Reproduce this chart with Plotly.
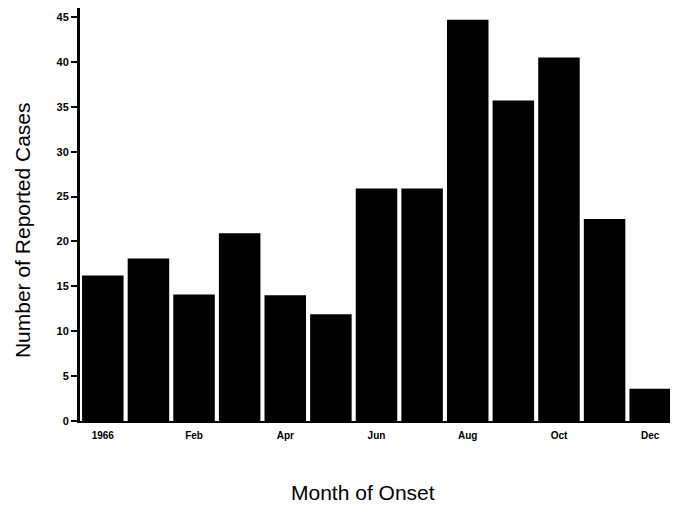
import plotly.graph_objects as go

bar_index = list(range(13))
cases = [16.2, 18.1, 14.1, 20.9, 14.0, 11.9, 25.9, 25.9, 44.7, 35.7, 40.5, 22.5, 3.6]
tick_positions = [0, 2, 4, 6, 8, 10, 12]
tick_labels = ["1966", "Feb", "Apr", "Jun", "Aug", "Oct", "Dec"]
y_ticks = [0, 5, 10, 15, 20, 25, 30, 35, 40, 45]

fig = go.Figure()
fig.add_trace(go.Bar(
    x=bar_index, y=cases,
    marker=dict(color="black", line=dict(width=0)),
    width=0.91,
))

fig.update_layout(
    width=670, height=499,
    margin=dict(l=72, r=5, t=0, b=86),
    paper_bgcolor="white", plot_bgcolor="white",
    showlegend=False,
    font=dict(family="Liberation Sans, Arial, sans-serif", color="black"),
    xaxis=dict(
        range=[-0.5, 12.5], automargin=False,
        tickmode="array", tickvals=tick_positions, ticktext=tick_labels,
        ticks="", tickfont=dict(size=10, family="Liberation Sans", weight="bold"),
        ticklabelstandoff=4,
        showline=True, linecolor="black", linewidth=2,
        showgrid=False, zeroline=False,
    ),
    yaxis=dict(
        range=[0, 46], automargin=False, tickmode="array", tickvals=y_ticks,
        ticks="outside", ticklen=6, tickwidth=2, tickcolor="black",
        tickfont=dict(size=11, family="Liberation Sans", weight="bold"),
        showline=True, linecolor="black", linewidth=3,
        showgrid=False, zeroline=False,
    ),
    annotations=[
        dict(text="Month of Onset", xref="paper", yref="paper", x=0.477, y=-0.174,
             xanchor="center", yanchor="middle", showarrow=False,
             font=dict(size=21)),
        dict(text="Number of Reported Cases", xref="paper", yref="paper", x=-0.098, y=0.462,
             xanchor="center", yanchor="middle", showarrow=False, textangle=-90,
             font=dict(size=21)),
    ],
)

fig.write_html("out.html")
